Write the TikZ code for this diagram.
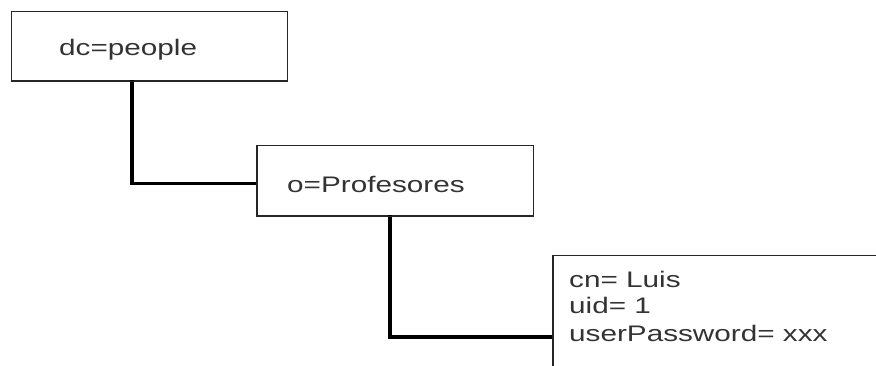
\documentclass[tikz,border=0pt]{standalone}
\usepackage{fontspec}
\setmainfont{Liberation Sans}[FakeStretch=1.32]
\begin{document}
\begin{tikzpicture}[x=1pt,y=-1pt,
  box/.style={draw=black!85, line width=1.4pt, fill=white, rectangle, inner sep=0pt},
  link/.style={draw=black, line width=3.4pt},
  lbl/.style={inner sep=0pt, font=\fontsize{22.5}{27}\selectfont, text=black!80}]
  \clip (0,0) rectangle (876,365);
  \fill[white] (0,0) rectangle (876,365);

  % directory entries
  \node[box, anchor=north west, minimum width=276, minimum height=69] (people) at (11,11) {};
  \node[box, anchor=north west, minimum width=276, minimum height=70] (prof) at (257,145) {};
  \node[box, anchor=north west, minimum width=340, minimum height=160] (user) at (553,255) {};

  % links between levels of the tree
  \coordinate (j1) at (132,80);
  \coordinate (j2) at (390,215);
  \draw[link] (j1) |- ([yshift=-3]prof.west);
  \draw[link] (j2) |- ([yshift=-82]user.north west);

  % redraw borders over the link ends
  \draw[black!85, line width=1.4pt] (people.south west) -- (people.south east);
  \draw[black!85, line width=1.4pt] (prof.north west) -- (prof.south west) -- (prof.south east);
  \draw[black!85, line width=1.4pt] (user.north west) -- (user.south west);

  % labels
  \node[lbl, anchor=base west] (tpeople) at (59,55) {dc=people};
  \node[lbl, anchor=base west] (tprof) at (287,192) {o=Profesores};
  \node[lbl, anchor=base west] (tcn) at (569,287) {cn= Luis};
  \node[lbl, anchor=base west] (tuid) at (569,313) {uid= 1};
  \node[lbl, anchor=base west] (tpw) at (569,341) {userPassword= xxx};
\end{tikzpicture}
\end{document}
